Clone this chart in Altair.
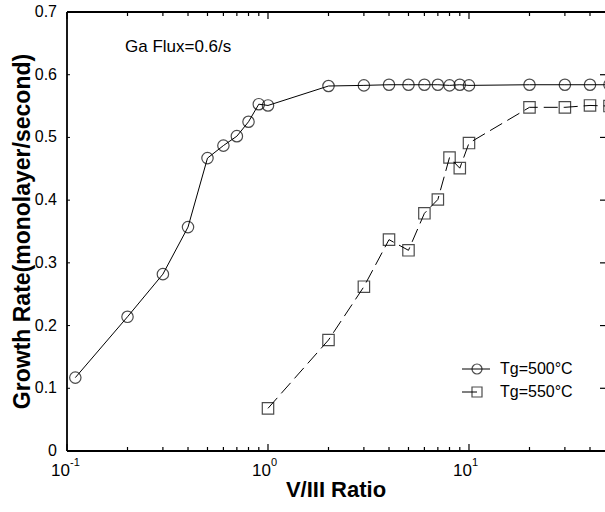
import altair as alt
import pandas as pd

# ---- data ----
ratio_500 = [0.11, 0.2, 0.3, 0.4, 0.5, 0.6, 0.7, 0.8, 0.9, 1.0,
             2, 3, 4, 5, 6, 7, 8, 9, 10, 20, 30, 40, 50]
rate_500 = [0.117, 0.214, 0.282, 0.357, 0.467, 0.487, 0.502, 0.525, 0.553, 0.551,
            0.582, 0.583, 0.584, 0.584, 0.584, 0.584, 0.583, 0.584, 0.583,
            0.584, 0.584, 0.584, 0.584]

ratio_550 = [1, 2, 3, 4, 5, 6, 7, 8, 9, 10, 20, 30, 40, 50]
rate_550 = [0.068, 0.177, 0.262, 0.337, 0.320, 0.379, 0.401, 0.468, 0.451, 0.491,
            0.548, 0.548, 0.551, 0.550]

x_major = [0.1, 1, 10]
x_exponents = ["-1", "0", "1"]
x_minor = [0.2, 0.3, 0.4, 0.5, 0.6, 0.7, 0.8, 0.9,
           2, 3, 4, 5, 6, 7, 8, 9, 20, 30, 40]
y_ticks = [0, 0.1, 0.2, 0.3, 0.4, 0.5, 0.6, 0.7]
y_tick_labels = ["0", "0.1", "0.2", "0.3", "0.4", "0.5", "0.6", "0.7"]
y_inner = [0.1, 0.2, 0.3, 0.4, 0.5, 0.6]

legend_labels = ["Tg=500°C", "Tg=550°C"]
note = "Ga Flux=0.6/s"
x_title = "V/III Ratio"
y_title = "Growth Rate(monolayer/second)"

# ---- layout ----
W, H = 538, 439
FONT = "Liberation Sans"

df500 = pd.DataFrame({"ratio": ratio_500, "rate": rate_500})
df550 = pd.DataFrame({"ratio": ratio_550, "rate": rate_550})

x_scale = alt.Scale(type="log", domain=[0.1, 47.5])
y_scale = alt.Scale(domain=[0, 0.7])

XR = alt.X("ratio:Q", scale=x_scale, axis=None)
YR = alt.Y("rate:Q", scale=y_scale, axis=None)

line500 = alt.Chart(df500).mark_line(color="black", strokeWidth=1, clip=True).encode(x=XR, y=YR)
pts500 = alt.Chart(df500).mark_point(
    shape="circle", filled=False, size=130, color="black", strokeWidth=1.2, clip=True
).encode(x=XR, y=YR)
line550 = alt.Chart(df550).mark_line(
    color="black", strokeWidth=1, strokeDash=[14, 6], clip=True
).encode(x=XR, y=YR)
pts550 = alt.Chart(df550).mark_point(
    shape="square", filled=False, size=130, color="black", strokeWidth=1.2, clip=True
).encode(x=XR, y=YR)

# ---- hand-drawn axes (inward ticks, as in the original figure) ----
XT = alt.X("t:Q", scale=x_scale, axis=None)
YT = alt.Y("t:Q", scale=y_scale, axis=None)
dmaj = pd.DataFrame({"t": x_major, "e": x_exponents})
dmin = pd.DataFrame({"t": x_minor})
dy = pd.DataFrame({"t": y_ticks, "lab": y_tick_labels})
dyi = pd.DataFrame({"t": y_inner})
one = pd.DataFrame({"a": [0]})

rule = dict(color="black", strokeWidth=1.2)
bot_major = alt.Chart(dmaj).mark_rule(**rule).encode(x=XT, y=alt.value(H), y2=alt.value(H - 7))
bot_minor = alt.Chart(dmin).mark_rule(**rule).encode(x=XT, y=alt.value(H), y2=alt.value(H - 4))
top_major = alt.Chart(dmaj).mark_rule(**rule).encode(x=XT, y=alt.value(0), y2=alt.value(7))
top_minor = alt.Chart(dmin).mark_rule(**rule).encode(x=XT, y=alt.value(0), y2=alt.value(4))
right_t = alt.Chart(dyi).mark_rule(**rule).encode(y=YT, x=alt.value(W), x2=alt.value(W - 5))
left_t = alt.Chart(dyi).mark_rule(color="black", strokeWidth=1).encode(
    y=YT, x=alt.value(0), x2=alt.value(3))

frame = dict(color="black", strokeWidth=1.8)
top_border = alt.Chart(one).mark_rule(**frame).encode(x=alt.value(0), x2=alt.value(W), y=alt.value(0))
bottom_border = alt.Chart(one).mark_rule(**frame).encode(x=alt.value(0), x2=alt.value(W), y=alt.value(H))
left_border = alt.Chart(one).mark_rule(**frame).encode(y=alt.value(0), y2=alt.value(H), x=alt.value(0))

x_lab10 = alt.Chart(dmaj).mark_text(
    text="10", align="right", baseline="middle", fontSize=17, font=FONT, color="black", dx=3
).encode(x=XT, y=alt.value(H + 20))
x_labexp = alt.Chart(dmaj).mark_text(
    align="left", baseline="middle", fontSize=11, font=FONT, color="black", dx=3
).encode(x=XT, y=alt.value(H + 12), text="e:N")
y_lab = alt.Chart(dy).mark_text(
    align="right", baseline="middle", fontSize=16, font=FONT, color="black"
).encode(y=YT, x=alt.value(-10), text="lab:N")

x_tit = alt.Chart(one).mark_text(
    text=x_title, align="center", baseline="middle", fontSize=22, fontWeight="bold",
    font=FONT, color="black"
).encode(x=alt.value(W / 2), y=alt.value(H + 39))
y_tit = alt.Chart(one).mark_text(
    text=y_title, align="center", baseline="middle", fontSize=23, fontWeight="bold",
    font=FONT, color="black", angle=270
).encode(x=alt.value(-44), y=alt.value(H / 2))

note_txt = alt.Chart(one).mark_text(
    text=note, align="left", baseline="middle", fontSize=17, font=FONT, color="black"
).encode(x=alt.value(58), y=alt.value(35))

# ---- legend ----
LX0, LX1, LS, LT = 395, 423, 410, 433
ROW1, ROW2 = 357, 380
leg_line1 = alt.Chart(one).mark_rule(color="black", strokeWidth=1).encode(
    x=alt.value(LX0), x2=alt.value(LX1), y=alt.value(ROW1))
leg_pt1 = alt.Chart(one).mark_point(shape="circle", filled=False, size=100, color="black", strokeWidth=1.2).encode(
    x=alt.value(LS), y=alt.value(ROW1))
leg_line2 = alt.Chart(one).mark_rule(color="black", strokeWidth=1).encode(
    x=alt.value(LX0), x2=alt.value(LS), y=alt.value(ROW2))
leg_pt2 = alt.Chart(one).mark_point(shape="square", filled=False, size=100, color="black", strokeWidth=1.2).encode(
    x=alt.value(LS), y=alt.value(ROW2))
leg_t1 = alt.Chart(one).mark_text(
    text=legend_labels[0], align="left", baseline="middle", fontSize=16, font=FONT, color="black"
).encode(x=alt.value(LT), y=alt.value(ROW1))
leg_t2 = alt.Chart(one).mark_text(
    text=legend_labels[1], align="left", baseline="middle", fontSize=16, font=FONT, color="black"
).encode(x=alt.value(LT), y=alt.value(ROW2))

chart = alt.layer(
    line500, line550, pts500, pts550,
    bot_major, bot_minor, top_major, top_minor, right_t, left_t,
    top_border, bottom_border, left_border,
    x_lab10, x_labexp, y_lab, x_tit, y_tit,
    note_txt, leg_line1, leg_pt1, leg_line2, leg_pt2, leg_t1, leg_t2,
).properties(
    width=W, height=H,
    autosize=alt.AutoSizeParams(type="none"),
    padding={"left": 67, "top": 12, "right": 0, "bottom": 61},
    background="white",
).configure(
    font=FONT, view=alt.ViewConfig(stroke="transparent")
)

chart.save("out.html", embed_options={"renderer": "svg", "actions": False})
